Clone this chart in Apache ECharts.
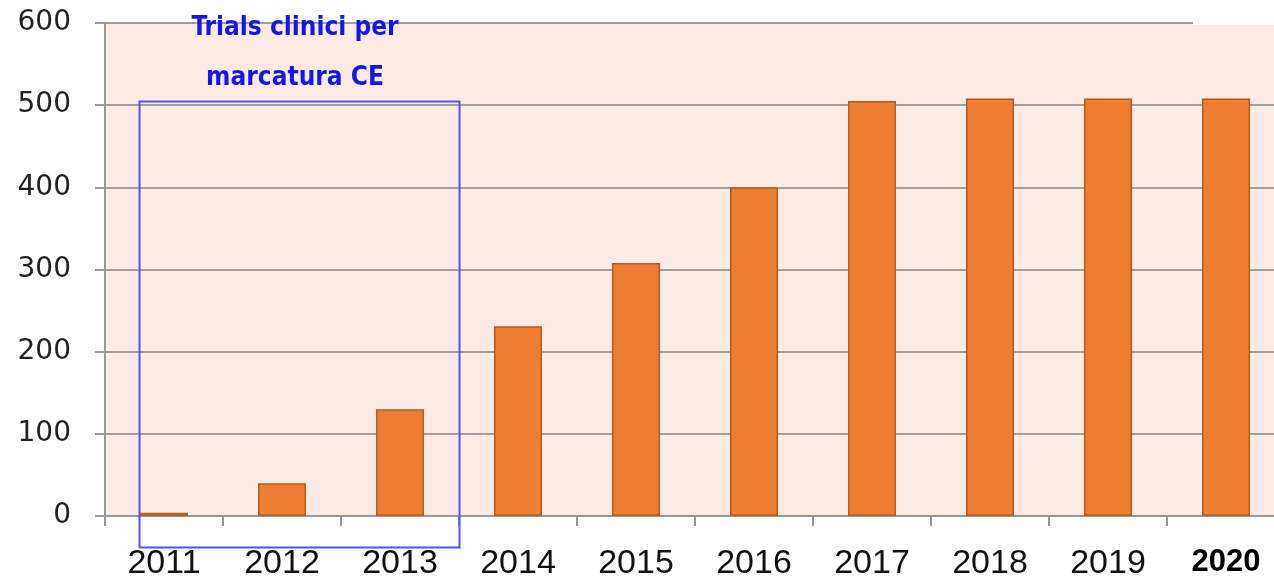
<!DOCTYPE html>
<html><head><meta charset="utf-8">
<script src="https://cdn.jsdelivr.net/npm/echarts@6/dist/echarts.min.js"></script>
<style>html,body{margin:0;padding:0;background:#fff}#c{width:1274px;height:579px}</style>
</head><body><div id="c"></div>
<script>
const years = ['2011','2012','2013','2014','2015','2016','2017','2018','2019','2020'];
const values = [4, 40, 130, 231, 308, 400, 505, 508, 508, 508];
const yTicks = [0, 100, 200, 300, 400, 500, 600];
const boxTitle = ['Trials clinici per', 'marcatura CE'];

const chart = echarts.init(document.getElementById('c'), null, {renderer:'canvas'});
chart.setOption({
  animation: false,
  grid: {left:105, top:23, width:1180, height:493, outerBoundsMode:'none', containLabel:false, show:true, backgroundColor:'#fbebe4', borderWidth:0},
  xAxis: {
    type:'category', data: years,
    axisLine:{lineStyle:{color:'#999', width:2}},
    axisTick:{show:true, interval:0, length:10, lineStyle:{color:'#999', width:2}},
    axisLabel:{
      interval:0, margin:31, color:'#111', fontFamily:'Liberation Sans', fontSize:34,
      formatter: v => v === '2020' ? '{b|' + v + '}' : v,
      rich:{b:{fontWeight:'bold', fontSize:31, fontFamily:'Liberation Sans', color:'#000'}}
    }
  },
  yAxis: {
    type:'value', min: yTicks[0], max: yTicks[yTicks.length-1], interval:100,
    axisLine:{show:true, lineStyle:{color:'#999', width:2}},
    axisTick:{show:true, length:10, lineStyle:{color:'#999', width:2}},
    splitLine:{lineStyle:{color:'#a0a0a0', width:2}},
    axisLabel:{margin:34, color:'#222', fontFamily:'DejaVu Sans', fontSize:28}
  },
  series: [{
    type:'bar', data: values, barWidth:48,
    itemStyle:{color:'#ed7d31', borderColor:'#b85a1e', borderWidth:1.5}
  }],
  graphic: [
    {type:'rect', left:137, top:99, shape:{width:320, height:446}, style:{fill:'none', stroke:'#5050ff', lineWidth:2}, z:100},
    {type:'rect', left:1193, top:0, shape:{width:81, height:25}, style:{fill:'#ffffff'}, z:50},
    {type:'text', x:295, y:28, style:{text:boxTitle[0], fill:'#1515ee', font:'bold 26px "DejaVu Sans Condensed"', textAlign:'center', textVerticalAlign:'middle'}, z:100},
    {type:'text', x:295, y:78, style:{text:boxTitle[1], fill:'#1515ee', font:'bold 26px "DejaVu Sans Condensed"', textAlign:'center', textVerticalAlign:'middle'}, z:100}
  ]
});
</script></body></html>
